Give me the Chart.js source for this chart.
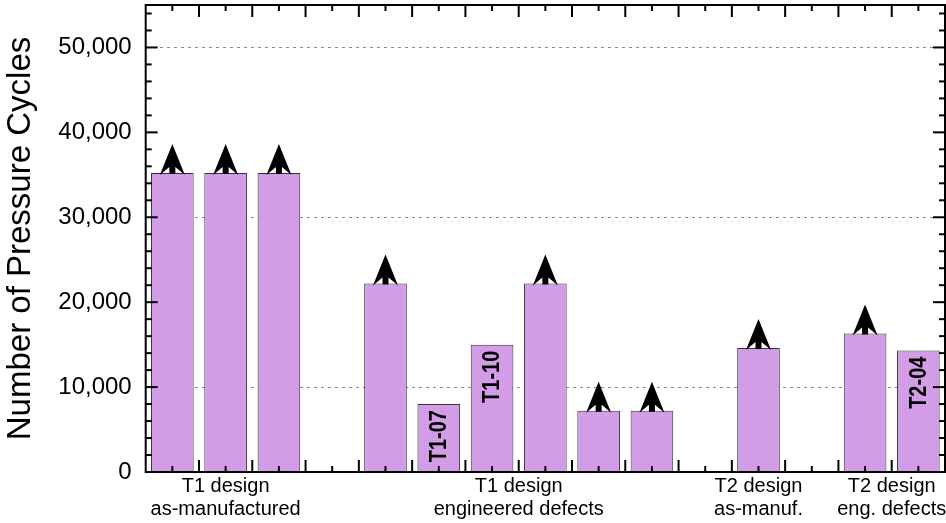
<!DOCTYPE html>
<html>
<head>
<meta charset="utf-8">
<script src="https://cdn.jsdelivr.net/npm/chart.js@4.4.1/dist/chart.umd.min.js"></script>
<style>
  html, body { margin: 0; padding: 0; background: #fff; }
</style>
</head>
<body>
<canvas id="cyclesChart" width="946" height="523"></canvas>
<script>
const slots = [1, 2, 3, 4, 5, 6, 7, 8, 9, 10, 11, 12, 13, 14, 15];
const cycles = [35200, 35200, 35200, null, 22200, 8000, 15000, 22200, 7200, 7200, null, 14600, null, 16300, 14300];
const runout = [true, true, true, false, true, false, false, true, true, true, false, true, false, true, false];
const barLabels = ['', '', '', '', '', 'T1-07', 'T1-10', '', '', '', '', '', '', '', 'T2-04'];
const groupLabels = [
    ['T1 design', 'as-manufactured'],
    ['T1 design', 'engineered defects'],
    ['T2 design', 'as-manuf.'],
    ['T2 design', 'eng. defects']
];
const groupCenters = [2, 7.5, 12, 14.5];
const yTicks = [0, 10000, 20000, 30000, 40000, 50000];

const FONT = '"Liberation Sans", Arial, Helvetica, sans-serif';

// fine purple crosshatch like the original fill
const makeHatch = () => {
    const c = document.createElement('canvas');
    c.width = 4;
    c.height = 4;
    const g = c.getContext('2d');
    g.fillStyle = '#d59fea';
    g.fillRect(0, 0, 4, 4);
    g.fillStyle = '#ca92df';
    g.fillRect(0, 0, 1, 1);
    g.fillRect(2, 2, 1, 1);
    g.fillRect(2, 0, 1, 1);
    g.fillRect(0, 2, 1, 1);
    return g.createPattern(c, 'repeat');
}

const drawArrow = (ctx, cx, top) => {
    ctx.beginPath();
    ctx.moveTo(cx, top - 29);
    ctx.lineTo(cx + 12.5, top + 2);
    ctx.lineTo(cx + 3, top - 6);
    ctx.lineTo(cx + 3, top + 1);
    ctx.lineTo(cx - 3, top + 1);
    ctx.lineTo(cx - 3, top - 6);
    ctx.lineTo(cx - 12.5, top + 2);
    ctx.closePath();
    ctx.fill();
}

const framePlugin = {
    id: 'frame',
    afterDraw(chart) {
        const {ctx, chartArea: a, scales: {x, y}} = chart;
        ctx.save();

        // runout arrows and specimen labels
        const meta = chart.getDatasetMeta(0);
        meta.data.forEach((bar, i) => {
            if (cycles[i] == null) return;
            if (runout[i]) {
                ctx.fillStyle = '#000';
                drawArrow(ctx, bar.x, bar.y);
            }
            if (barLabels[i]) {
                ctx.save();
                ctx.translate(bar.x + 1, bar.y + 6);
                ctx.rotate(-Math.PI / 2);
                ctx.scale(0.87, 1);
                ctx.font = 'bold 23px ' + FONT;
                ctx.fillStyle = '#000';
                ctx.textAlign = 'right';
                ctx.textBaseline = 'middle';
                ctx.fillText(barLabels[i], 0, 0);
                ctx.restore();
            }
        });

        // inward ticks on all four sides
        ctx.strokeStyle = '#000';
        ctx.lineWidth = 2;
        const line = (x1, y1, x2, y2) => {
            ctx.beginPath();
            ctx.moveTo(x1, y1);
            ctx.lineTo(x2, y2);
            ctx.stroke();
        }
        for (let v = 0; v <= 54000; v += 2000) {
            const py = y.getPixelForValue(v);
            const len = v % 10000 === 0 ? 12 : 6;
            line(a.left, py, a.left + len, py);
            line(a.right, py, a.right - len, py);
        }
        slots.forEach(s => {
            const px = x.getPixelForValue(s);
            line(px, a.bottom, px, a.bottom - 6);
            line(px, a.top, px, a.top + 6);
            if (s < slots.length) {
                const bx = x.getPixelForValue(s + 0.5);
                line(bx, a.bottom, bx, a.bottom - 12);
                line(bx, a.top, bx, a.top + 12);
            }
        });

        ctx.strokeRect(a.left, a.top, a.right - a.left, a.bottom - a.top);
        ctx.restore();
    }
}

const ctx = document.getElementById('cyclesChart').getContext('2d');
const chart = new Chart(ctx, {
    type: 'bar',
    data: {
        datasets: [{
            data: cycles.map((v, i) => ({x: slots[i], y: v})),
            backgroundColor: makeHatch(),
            borderColor: '#333',
            borderWidth: 1,
            barPercentage: 0.8,
            categoryPercentage: 1.0,
        }]
    },
    options: {
        responsive: false,
        animation: false,
        layout: {
            padding: {top: 5, right: 1, left: 0, bottom: 0}
        },
        plugins: {
            legend: {display: false},
            tooltip: {enabled: false},
        },
        scales: {
            x: {
                type: 'linear',
                offset: false,
                min: 0.5,
                max: 15.5,
                grid: {display: false, drawTicks: false},
                border: {display: false},
                afterBuildTicks: (scale) => {
                    scale.ticks = groupCenters.map(v => ({value: v}));
                },
                afterFit: (scale) => {
                    scale.height = 51;
                    scale.paddingLeft = 0;
                    scale.paddingRight = 0;
                },
                ticks: {
                    autoSkip: false,
                    maxRotation: 0,
                    padding: 3,
                    color: '#000',
                    font: {family: FONT, size: 20, lineHeight: 1.16},
                    callback: (value, index) => groupLabels[index]
                }
            },
            y: {
                min: 0,
                max: 55000,
                z: 1,
                afterBuildTicks: (scale) => {
                    scale.ticks = yTicks.map(v => ({value: v}));
                },
                afterFit: (scale) => {
                    scale.width = 145.7;
                    scale.paddingTop = 0;
                    scale.paddingBottom = 0;
                },
                grid: {
                    drawTicks: false,
                    color: (c) => c.tick && c.tick.value % 20000 === 10000 ? '#8a8a8a' : 'rgba(0,0,0,0)',
                    lineWidth: 1,
                },
                border: {display: false, dash: [3, 4]},
                ticks: {
                    padding: 14,
                    color: '#000',
                    font: {family: FONT, size: 24},
                    callback: (value) => value.toLocaleString('en-US')
                },
                title: {
                    display: true,
                    text: 'Number of Pressure Cycles',
                    color: '#000',
                    font: {family: FONT, size: 33},
                    padding: {top: 1, bottom: 0}
                }
            }
        }
    },
    plugins: [framePlugin]
});
</script>
</body>
</html>
